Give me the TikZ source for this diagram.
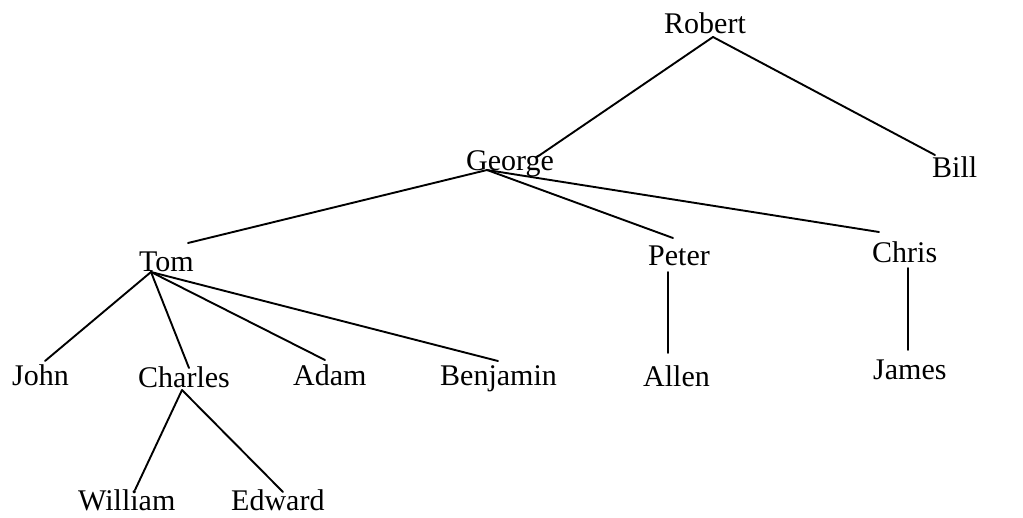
\documentclass[tikz,border=0pt]{standalone}
\usepackage{fontspec}
\setmainfont{Liberation Serif}
\begin{document}
\begin{tikzpicture}[x=1pt,y=-1pt,
  person/.style={anchor=base west,inner sep=0pt,text depth=0pt,font=\fontsize{30}{36}\selectfont},
  edge/.style={line width=1.9pt,line cap=round}]
\useasboundingbox (0,0) rectangle (1023,517);
\node[person] (robert) at (664,33) {Robert};
\node[person] (george) at (466,170) {George};
\node[person] (bill) at (932,177) {Bill};
\node[person] (tom) at (139,271) {Tom};
\node[person] (peter) at (648,265) {Peter};
\node[person] (chris) at (872,262) {Chris};
\node[person] (john) at (12,385) {John};
\node[person] (charles) at (138,387) {Charles};
\node[person] (adam) at (293,385) {Adam};
\node[person] (benjamin) at (440,385) {Benjamin};
\node[person] (allen) at (643,386) {Allen};
\node[person] (james) at (873,379) {James};
\node[person] (william) at (78,510) {William};
\node[person] (edward) at (231,510) {Edward};
% connector ends
\coordinate (robertS) at (713,37);
\coordinate (georgeN) at (537,157);
\coordinate (billN) at (935,155);
\coordinate (georgeS) at (487,170);
\coordinate (tomN) at (188,243);
\coordinate (peterN) at (673,238);
\coordinate (chrisN) at (879,232);
\coordinate (tomS) at (151,272);
\coordinate (johnN) at (45,361);
\coordinate (charlesN) at (189,368);
\coordinate (adamN) at (325,360);
\coordinate (benjaminN) at (498,361);
\coordinate (peterS) at (668,272);
\coordinate (allenN) at (668,353);
\coordinate (chrisS) at (908,268);
\coordinate (jamesN) at (908,350);
\coordinate (charlesS) at (182,390);
\coordinate (williamN) at (135,490);
\coordinate (edwardN) at (283,492);
\draw[edge] (robertS) -- (georgeN);
\draw[edge] (robertS) -- (billN);
\draw[edge] (georgeS) -- (tomN);
\draw[edge] (georgeS) -- (peterN);
\draw[edge] (georgeS) -- (chrisN);
\draw[edge] (tomS) -- (johnN);
\draw[edge] (tomS) -- (charlesN);
\draw[edge] (tomS) -- (adamN);
\draw[edge] (tomS) -- (benjaminN);
\draw[edge] (peterS) -- (allenN);
\draw[edge] (chrisS) -- (jamesN);
\draw[edge] (charlesS) -- (williamN);
\draw[edge] (charlesS) -- (edwardN);
\end{tikzpicture}
\end{document}
